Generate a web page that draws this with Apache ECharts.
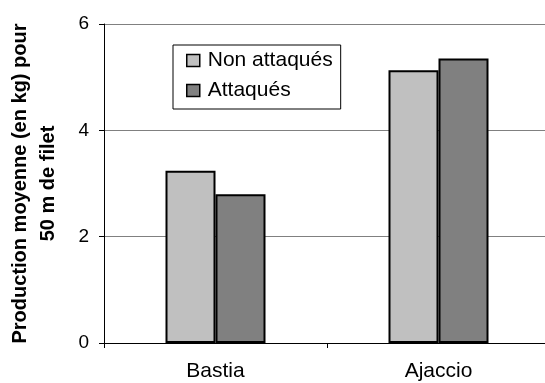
<!DOCTYPE html>
<html>
<head>
<meta charset="utf-8">
<script src="https://cdn.jsdelivr.net/npm/echarts@6/dist/echarts.min.js"></script>
<style>
  html, body { margin: 0; padding: 0; background: #fff; }
  #chart { width: 545px; height: 383px; }
</style>
</head>
<body>
<div id="chart"></div>
<script>
// Sites and mean production per 50 m of net
const sites = ['Bastia', 'Ajaccio'];
const nonAttaques = [3.24, 5.13];
const attaques = [2.80, 5.35];
const yTicks = [0, 2, 4, 6];

const font = 'Liberation Sans, Arial, sans-serif';
const chart = echarts.init(document.getElementById('chart'));

chart.setOption({
  animation: false,
  backgroundColor: '#fff',
  grid: {
    left: 104, top: 24, right: -5, bottom: 40,
    containLabel: false,
    outerBoundsMode: 'none'
  },
  legend: {
    orient: 'vertical',
    left: 173,
    top: 45,
    padding: [5, 8, 8, 13],
    itemGap: 9,
    itemWidth: 13,
    itemHeight: 12,
    borderColor: '#000',
    borderWidth: 1,
    backgroundColor: '#fff',
    icon: 'rect',
    itemStyle: { borderColor: '#000', borderWidth: 1.5 },
    textStyle: { fontFamily: font, fontSize: 21, color: '#000', padding: [0, 0, 0, 3] },
    data: ['Non attaqués', 'Attaqués']
  },
  xAxis: {
    type: 'category',
    data: sites,
    axisLine: { lineStyle: { color: '#000', width: 1 } },
    axisTick: { show: true, length: 5, lineStyle: { color: '#000' } },
    axisLabel: { fontFamily: font, fontSize: 21, color: '#000', margin: 18 }
  },
  yAxis: {
    type: 'value',
    min: 0,
    max: 6,
    interval: 2,
    name: 'Production moyenne (en kg) pour\n50 m de filet',
    nameLocation: 'middle',
    nameRotate: 90,
    nameGap: 42,
    nameTextStyle: { fontFamily: font, fontSize: 20, fontWeight: 'bold', color: '#000', lineHeight: 28 },
    axisLine: { show: true, lineStyle: { color: '#000', width: 1 } },
    axisTick: { show: true, length: 5, lineStyle: { color: '#000' } },
    axisLabel: {
      fontFamily: font, fontSize: 19, color: '#000', margin: 15,
      formatter: v => (yTicks.includes(v) ? String(v) : '')
    },
    splitLine: { show: true, lineStyle: { color: '#808080', width: 1 } }
  },
  series: [
    {
      name: 'Non attaqués',
      type: 'bar',
      data: nonAttaques,
      barWidth: 50,
      barGap: '0%',
      itemStyle: { color: '#c0c0c0', borderColor: '#000', borderWidth: 2 }
    },
    {
      name: 'Attaqués',
      type: 'bar',
      data: attaques,
      barWidth: 50,
      barGap: '0%',
      itemStyle: { color: '#808080', borderColor: '#000', borderWidth: 2 }
    }
  ]
});
</script>
</body>
</html>
